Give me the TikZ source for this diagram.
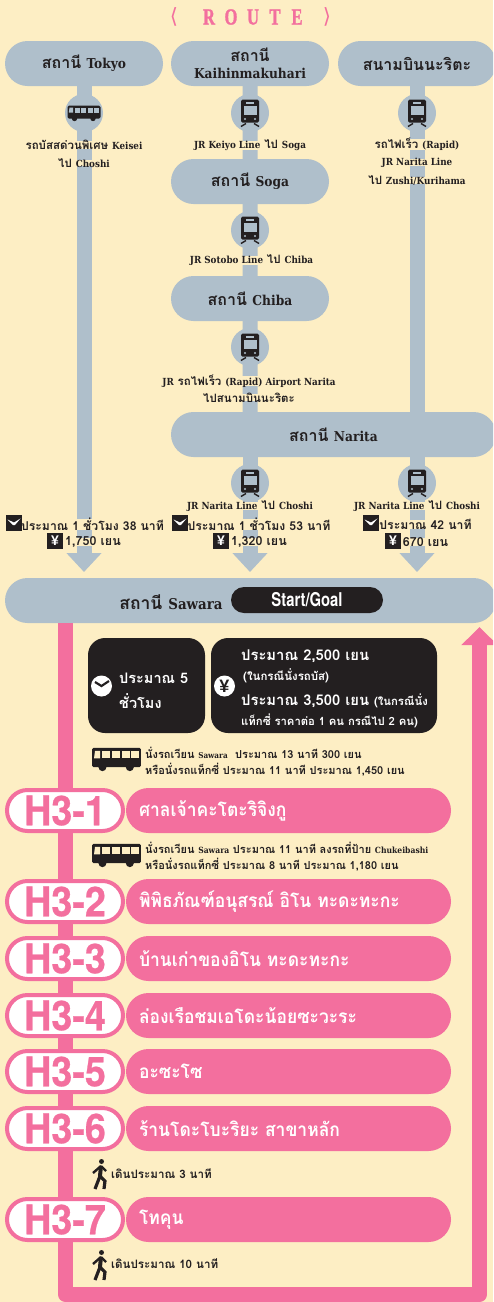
\documentclass[tikz,border=0pt]{standalone}
\usepackage{fontspec}
\usetikzlibrary{shapes.misc,arrows.meta,calc}
\newfontfamily\thaif[Script=Thai]{Loma}
\newfontfamily\thaic[Script=Thai,FakeStretch=0.92]{Loma}
\newfontfamily\latf[Scale=0.85]{DejaVu Serif Condensed}
\newfontfamily\helvf[FakeStretch=0.92,FakeBold=0.6]{TeX Gyre Heros}
\newfontfamily\helvn[FakeStretch=0.78]{TeX Gyre Heros}
\newfontfamily\symf{DejaVu Sans}
\newfontfamily\titlef[FakeStretch=0.72,FakeBold=1.2]{Liberation Serif}
\newfontfamily\yenf{Liberation Sans}
\newcommand\sz[1]{\fontsize{#1}{#1}\selectfont}
\newcommand\ltn[1]{{\latf\bfseries #1}}
\definecolor{cream}{HTML}{FDEEC4}
\definecolor{slate}{HTML}{AFBFCB}
\definecolor{ink}{HTML}{231F20}
\definecolor{rose}{HTML}{F36F9E}
\colorlet{hole}{slate}
\tikzset{
  station/.style={rounded rectangle,fill=slate,text=ink,minimum width=158pt,minimum height=45pt,inner sep=0pt,align=center,font=\thaif\bfseries\sz{16}},
  hub/.style={circle,fill=slate,minimum size=38pt,inner sep=0pt},
  rail/.style={draw=slate,line width=15pt},
  railtip/.style={rail,-{Triangle[width=34pt,length=19pt]}},
  lbl/.style={fill=cream,text=ink,inner xsep=1pt,inner ysep=-1pt,font=\thaif\bfseries\sz{#1}},
  lbl/.default={11.5},
  note/.style={text=ink,inner sep=0pt,anchor=west,font=\thaif\bfseries\sz{#1}},
  note/.default={11},
  stoppill/.style={rounded rectangle,fill=rose,minimum width=325pt,minimum height=45pt,inner sep=0pt},
  stopbadge/.style={rounded rectangle,draw=rose,line width=4pt,fill=white,minimum width=116pt,minimum height=41pt,inner sep=0pt,text=rose,font=\helvf\bfseries\sz{41}},
  stoptext/.style={anchor=west,inner sep=0pt,text=white,font=\thaic\bfseries\sz{19}},
  darkbox/.style={fill=ink,rounded corners=17pt,inner sep=0pt},
  wtxt/.style={anchor=west,inner sep=0pt,text=white,font=\thaif\bfseries\sz{#1}},
  trainicon/.pic={
    \fill[ink,rounded corners=1.5pt] (-9,-13.5) rectangle (9,9.5);
    \fill[hole] (-4,-11.5) rectangle (4,-9);
    \fill[hole] (-6.5,-7) rectangle (6.5,2);
    \fill[hole] (-5,6) circle (1.2) (5,6) circle (1.2);
    \draw[ink,line width=1.4pt] (-4,10.5) -- (-9,13.5) (4,10.5) -- (9,13.5);
  },
  busicon/.pic={
    \fill[ink,rounded corners=1.5pt] (-16.5,-7.5) -- (16.5,-7.5) -- (16.5,5.5) -- (-16.5,5.5) -- (-16.5,0) -- cycle;
    \fill[hole] (-14.5,-5.5) -- (-11,-5.5) -- (-11,-0.5) -- (-15.2,-0.5) -- cycle;
    \foreach \q in {-9.5,-3,3.5,10}{\fill[hole] (\q,-5.5) rectangle ++(5.4,5);}
    \fill[ink] (-9.5,5.5) circle (2.7) (9,5.5) circle (2.7);
  },
  clockicon/.pic={
    \fill[ink] (-8,-8) rectangle (8,8);
    \fill[white] (-6.5,-3.5) -- (0,-0.5) -- (6.5,-4.5) -- (1,2) -- (-1,2) -- cycle;
  },
  walkicon/.pic={
    \fill[ink] (1.5,-12.5) circle (2.5);
    \draw[ink,line width=4pt] (1,-8) -- (0,2);
    \draw[ink,line width=2.4pt] (1,-8) -- (-7,-1) (1,-8) -- (6,-3);
    \draw[ink,line width=3.2pt] (0,2) -- (-5,15) (0,2) -- (5,7) -- (4,15);
  }
}
\newcommand\stoprow[3]{%
  \node[stopbadge] (badge#1) at (65,#2+22.5) {H3-#1};
  \node[stoppill] (pill#1) at (288.5,#2+22.5) {};
  \node[stoptext] (name#1) at ([xshift=13pt]pill#1.west) {#3};
}
\newcommand\yensq[3]{\node[fill=ink,text=white,inner sep=0pt,minimum size=16pt,font=\yenf\bfseries\sz{14}] (#1) at (#2,#3) {¥};}
\begin{document}
\begin{tikzpicture}[x=1pt,y=-1pt]
\useasboundingbox (0,0) rectangle (493,1302);
\clip (0,0) rectangle (493,1302);
\fill[cream] (0,0) rectangle (493,1302);
% title
\node[text=rose,inner sep=0pt,font=\titlef\bfseries\sz{23}] (routetitle) at (253,17) {\makebox[22pt]{R}\makebox[22pt]{O}\makebox[22pt]{U}\makebox[22pt]{T}\makebox[22pt]{E}};
\node[text=rose,inner sep=0pt,font=\symf\sz{21}] (brl) at (174,17) {⟨};
\node[text=rose,inner sep=0pt,font=\symf\sz{21}] (brr) at (327,17) {⟩};
% stations
\node[station] (tokyo) at (84,63.5) {สถานี \ltn{Tokyo}};
\node[station] (kaihin) at (250,63.5) {สถานี\\[1pt]\ltn{Kaihinmakuhari}};
\node[station] (airport) at (417,63.5) {สนามบินนะริตะ};
\node[station] (soga) at (250,181.5) {สถานี \ltn{Soga}};
\node[station] (chiba) at (250,298.5) {สถานี \ltn{Chiba}};
\node[station,minimum width=325pt] (narita) at (333.5,434.5) {สถานี \ltn{Narita}};
\node[station,minimum width=491pt] (sawara) at (250.5,600.5) {};
\coordinate (tipa) at (84,572);
\coordinate (tipb) at (250,572);
\coordinate (tipc) at (417,572);
% return loop
\coordinate (retl) at (65.5,623);
\coordinate (cornerl) at (65.5,1294.5);
\coordinate (cornerr) at (479.5,1294.5);
\coordinate (retr) at (479.5,627);
\draw[rose,line width=15pt,line join=round,-{Triangle[width=35pt,length=18pt]}] (retl) -- (cornerl) -- (cornerr) -- (retr);
% rails
\draw[railtip] (tokyo.south) -- (tipa);
\draw[rail] (kaihin) -- (soga);
\draw[rail] (soga) -- (chiba);
\draw[rail] (chiba) -- (chiba |- narita.north);
\draw[rail] (airport.south) -- (airport |- narita.north);
\draw[railtip] (tipb |- narita.south) -- (tipb);
\draw[railtip] (tipc |- narita.south) -- (tipc);
% hubs
\node[hub] (h1) at (84,113) {};
\node[hub] (h2) at (250,113) {};
\node[hub] (h3) at (417,113) {};
\node[hub] (h4) at (250,230) {};
\node[hub] (h5) at (250,347) {};
\node[hub] (h6) at (250,483) {};
\node[hub] (h7) at (417,483) {};
\pic at (h1) {busicon};
\foreach \n in {h2,h3,h4,h5,h6,h7}{\pic at (\n) {trainicon};}
% route labels
\node[lbl] (t1) at (84,145) {รถบัสสด่วนพิเศษ \ltn{Keisei}};
\node[lbl] (t2) at (84,163) {ไป \ltn{Choshi}};
\node[lbl] (t3) at (250,145) {\ltn{JR Keiyo Line} ไป \ltn{Soga}};
\node[lbl] (t4) at (417,144.5) {รถไฟเร็ว \ltn{(Rapid)}};
\node[lbl] (t5) at (417,162.5) {\ltn{JR Narita Line}};
\node[lbl] (t6) at (417,180.5) {ไป \ltn{Zushi/Kurihama}};
\node[lbl] (t7) at (251.5,260.5) {\ltn{JR Sotobo Line} ไป \ltn{Chiba}};
\node[lbl] (t8) at (249,381) {\ltn{JR} รถไฟเร็ว \ltn{(Rapid) Airport Narita}};
\node[lbl] (t9) at (249,397.5) {ไปสนามบินนะริตะ};
\node[lbl] (t10) at (250,506) {\ltn{JR Narita Line} ไป \ltn{Choshi}};
\node[lbl] (t11) at (417,506) {\ltn{JR Narita Line} ไป \ltn{Choshi}};
% time and fare
\node[lbl=12.2] (d1) at (92.5,524.5) {ประมาณ 1 ชั่วโมง 38 นาที};
\node[lbl=12.2] (d2) at (259,524.5) {ประมาณ 1 ชั่วโมง 53 นาที};
\node[lbl=12.2] (d3) at (425.5,524.5) {ประมาณ 42 นาที};
\node[lbl=12.5] (c1) at (93,542) {1,750 เยน};
\node[lbl=12.5] (c2) at (259,542) {1,320 เยน};
\node[lbl=12.5] (c3) at (425.5,542) {670 เยน};
\pic at (14,523) {clockicon};
\pic at (180,523) {clockicon};
\pic at (371,523) {clockicon};
\yensq{y1}{55}{540.5}
\yensq{y2}{221}{540.5}
\yensq{y3}{393}{540.5}
% Sawara
\node[text=ink,inner sep=0pt,font=\thaif\bfseries\sz{17.5}] (sawname) at (171,602) {สถานี \ltn{Sawara}};
\node[rounded rectangle,fill=ink,text=white,minimum width=152pt,minimum height=26pt,inner sep=0pt,font=\helvn\bfseries\sz{19}] (startgoal) at (307,600) {Start/Goal};
% summary boxes
\node[darkbox,minimum width=117pt,minimum height=95pt] (boxtime) at (146.5,685.5) {};
\node[darkbox,minimum width=226pt,minimum height=95pt] (boxfare) at (324,685.5) {};
\node[circle,fill=white,minimum size=21pt,inner sep=0pt] (clockbig) at (101.5,686) {};
\draw[ink,line width=2.2pt] (95,682) -- (clockbig.center) -- (109,681);
\node[circle,fill=white,minimum size=21pt,inner sep=0pt,text=ink,font=\yenf\bfseries\sz{18}] (yenbig) at (224.5,686) {¥};
\node[wtxt=14.5] (b1) at (119,678) {ประมาณ 5};
\node[wtxt=14.5] (b2) at (119,701) {ชั่วโมง};
\node[wtxt=14.8] (b3) at (241,656) {ประมาณ 2,500 เยน};
\node[wtxt=11.5] (b4) at (243,676) {(ในกรณีนั่งรถบัส)};
\node[wtxt=14.8] (b5) at (241,701) {ประมาณ 3,500 เยน \sz{11.3}(ในกรณีนั่ง};
\node[wtxt=11.3] (b6) at (241,721) {แท็กซี่ ราคาต่อ 1 คน กรณีไป 2 คน)};
% notes
\colorlet{hole}{cream}
\pic[scale=1.48] at (116.5,759) {busicon};
\pic[scale=1.48] at (116.5,855) {busicon};
\node[note] (n1) at (145,753) {นั่งรถเวียน {\sz{9.5}\ltn{Sawara}}\ \ ประมาณ 13 นาที 300 เยน};
\node[note] (n2) at (145,769.5) {หรือนั่งรถแท็กซี่ ประมาณ 11 นาที ประมาณ 1,450 เยน};
\node[note] (n3) at (145,848) {นั่งรถเวียน {\sz{10}\ltn{Sawara}} ประมาณ 11 นาที ลงรถที่ป้าย {\sz{10}\ltn{Chukeibashi}}};
\node[note] (n4) at (145,864.5) {หรือนั่งรถแท็กซี่ ประมาณ 8 นาที ประมาณ 1,180 เยน};
% stops
\stoprow{1}{788}{ศาลเจ้าคะโตะริจิงกู}
\stoprow{2}{879}{พิพิธภัณฑ์อนุสรณ์ อิโน ทะดะทะกะ}
\stoprow{3}{936}{บ้านเก่าของอิโน ทะดะทะกะ}
\stoprow{4}{993}{ล่องเรือชมเอโดะน้อยซะวะระ}
\stoprow{5}{1049}{อะซะโซ}
\stoprow{6}{1106}{ร้านโดะโบะริยะ สาขาหลัก}
\stoprow{7}{1197}{โทคุน}
% walking
\pic at (100,1174) {walkicon};
\pic at (100,1265) {walkicon};
\node[note=11.6] (w1) at (111,1174) {เดินประมาณ 3 นาที};
\node[note=11.6] (w2) at (111,1264) {เดินประมาณ 10 นาที};
\end{tikzpicture}
\end{document}
